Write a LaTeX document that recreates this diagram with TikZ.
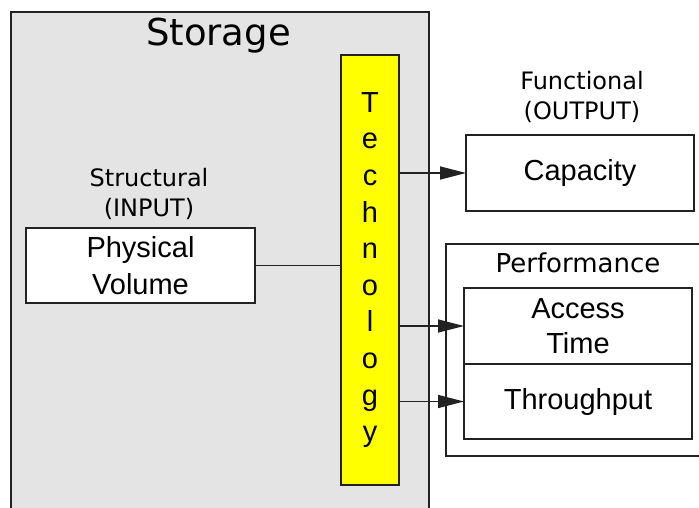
\documentclass[tikz,border=0pt]{standalone}
\usepackage{fontspec}
\setmainfont{Liberation Sans}
\newfontfamily\vera{DejaVu Sans}
\usetikzlibrary{arrows.meta}
\definecolor{panelgray}{RGB}{228,228,228}
\definecolor{edge}{RGB}{34,34,34}
\definecolor{techyellow}{RGB}{255,255,0}

\begin{document}
\begin{tikzpicture}[x=1pt, y=-1pt,
  every node/.style={inner sep=0pt, outer sep=0pt},
  panel/.style={draw=edge, line width=1.5pt, fill=panelgray, anchor=north west},
  whitebox/.style={draw=edge, line width=1.5pt, fill=white, align=center,
    font=\fontsize{29}{36}\selectfont},
  techbar/.style={draw=edge, line width=1.5pt, fill=techyellow, align=center,
    font=\fontsize{29}{36.6}\selectfont},
  caption/.style={align=center, font=\vera\fontsize{24}{30}\selectfont},
  link/.style={draw=edge, line width=1.5pt},
  feed/.style={link, -{Triangle[length=26pt, width=13pt]}}
]
\useasboundingbox (0,0) rectangle (699,508);
\clip (0,0) rectangle (699,508);
\fill[white] (0,0) rectangle (699,508);

% storage panel, running past the lower edge
\node[panel, minimum width=418pt, minimum height=520pt] (storage) at (11,12) {};
\node[font=\vera\fontsize{37}{44}\selectfont, anchor=base] (storagetitle) at (218.5,46) {Storage};

% technology bar
\node[techbar, minimum width=58pt, minimum height=430pt] (tech) at (370,270)
  {T\\e\\c\\h\\n\\o\\l\\o\\g\\y};

% input side
\node[caption] (structural) at (149,193.5) {Structural\\(INPUT)};
\node[whitebox, minimum width=229pt, minimum height=75pt,
  font=\fontsize{29}{37}\selectfont] (pv) at (140.5,265.5) {Physical\\Volume};

% output side
\node[caption] (functional) at (582,96.5) {Functional\\(OUTPUT)};
\node[whitebox, minimum width=228pt, minimum height=76pt] (cap) at (580,173) {Capacity};

\node[draw=edge, line width=1.5pt, fill=white, minimum width=259pt, minimum height=212pt]
  (perf) at (575.5,350) {};
\node[font=\vera\fontsize{26}{31}\selectfont, anchor=base] (perftitle) at (578,272) {Performance};
\node[whitebox, minimum width=228pt, minimum height=76pt,
  font=\fontsize{29}{35}\selectfont] (acc) at (578,326) {Access\\Time};
\node[whitebox, minimum width=228pt, minimum height=75pt] (thr) at (578,401.5) {Throughput};

% connectors
\draw[link] (pv.east) -- (pv.east -| tech.west);
\draw[feed] (tech.east |- cap.west) -- (cap.west);
\draw[feed] (tech.east |- acc.west) -- (acc.west);
\draw[feed] (tech.east |- thr.west) -- (thr.west);
\end{tikzpicture}
\end{document}
